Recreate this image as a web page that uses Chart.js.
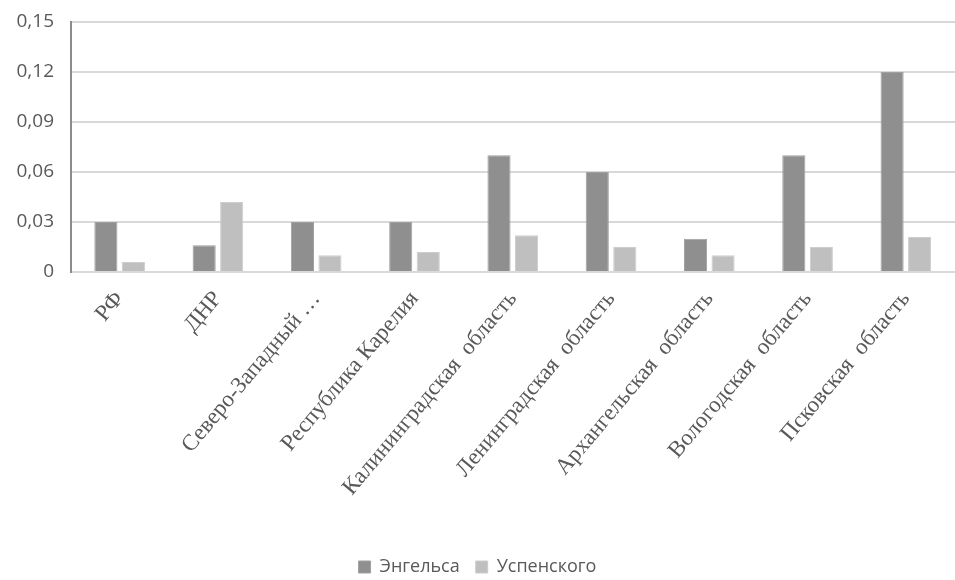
<!DOCTYPE html>
<html>
<head>
<meta charset="utf-8">
<script src="https://cdn.jsdelivr.net/npm/chart.js@4.4.1/dist/chart.umd.min.js"></script>
<style>
    html, body { margin: 0; padding: 0; background: #fff; }
    #wrap { width: 955px; height: 580px; }
</style>
</head>
<body>
<div id="wrap"><canvas id="chart"></canvas></div>
<script>
// ===== Data =====
const categories = [
    'РФ',
    'ДНР',
    'Северо-Западный …',
    'Республика Карелия',
    'Калининградская  область',
    'Ленинградская  область',
    'Архангельская  область',
    'Вологодская  область',
    'Псковская  область'
];
const engelsa = [0.03, 0.016, 0.03, 0.03, 0.07, 0.06, 0.02, 0.07, 0.12];
const uspenskogo = [0.006, 0.042, 0.01, 0.012, 0.022, 0.015, 0.01, 0.015, 0.021];
const yTicks = [0, 0.03, 0.06, 0.09, 0.12, 0.15];

const textColor = '#595959';

new Chart(document.getElementById('chart').getContext('2d'), {
    type: 'bar',
    data: {
        labels: categories,
        datasets: [{
            label: 'Энгельса',
            data: engelsa,
            backgroundColor: '#8f8f8f',
            borderColor: '#a0a0a0',
            borderWidth: 1,
            categoryPercentage: 0.56,
            barPercentage: 0.84
        }, {
            label: 'Успенского',
            data: uspenskogo,
            backgroundColor: '#bfbfbf',
            borderColor: '#cdcdcd',
            borderWidth: 1,
            categoryPercentage: 0.56,
            barPercentage: 0.84
        }]
    },
    options: {
        responsive: true,
        maintainAspectRatio: false,
        animation: false,
        layout: { padding: { top: 0, right: 0, left: 0, bottom: -6 } },
        plugins: {
            legend: {
                position: 'bottom',
                labels: {
                    boxWidth: 12,
                    boxHeight: 12,
                    padding: 16,
                    color: textColor,
                    font: { family: 'Open Sans', size: 18 }
                }
            },
            tooltip: { enabled: false }
        },
        scales: {
            x: {
                grid: { display: false },
                border: { color: '#d9d9d9', width: 2 },
                // leave the gap between the rotated labels and the legend
                afterFit: axis => { axis.height = 270; },
                ticks: {
                    color: textColor,
                    maxRotation: 50,
                    minRotation: 50,
                    autoSkip: false,
                    padding: 6,
                    font: { family: 'Liberation Serif', size: 23 }
                }
            },
            y: {
                min: 0,
                max: 0.15,
                afterBuildTicks: axis => { axis.ticks = yTicks.map(v => ({ value: v })); },
                // tick padding would otherwise also push the plot top down
                afterFit: axis => { axis.paddingTop = 22; },
                grid: { color: '#d9d9d9', lineWidth: 2, drawTicks: false },
                border: { color: '#8c8c8c', width: 2 },
                ticks: {
                    color: textColor,
                    padding: 16.5,
                    font: { family: 'Open Sans', size: 19 },
                    callback: v => String(v).replace('.', ',')
                }
            }
        }
    }
});
</script>
</body>
</html>
